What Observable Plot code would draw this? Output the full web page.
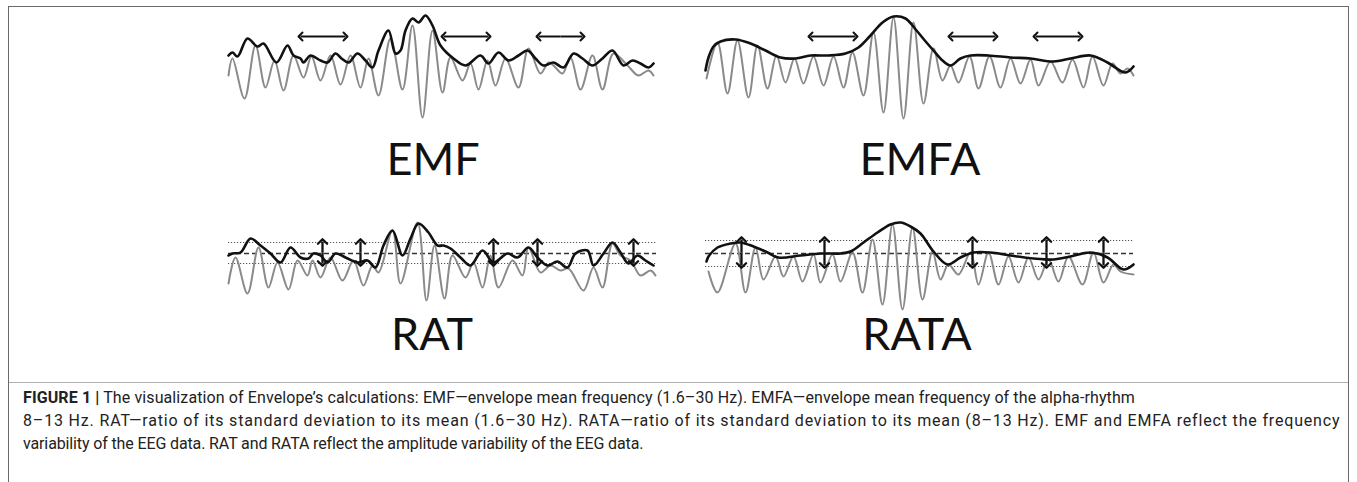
<!DOCTYPE html>
<html><head><meta charset="utf-8">
<script src="https://cdn.jsdelivr.net/npm/d3@7"></script>
<script src="https://cdn.jsdelivr.net/npm/@observablehq/plot@0.6"></script>
<style>
html,body{margin:0;padding:0;background:#fff;overflow:hidden}
#fig{position:relative;width:1357px;height:482px;overflow:hidden}
.box{position:absolute;left:8px;top:6px;width:1339px;height:560px;border:1.5px solid #6a6a6a}
.hr{position:absolute;left:9px;top:382px;width:1339px;border-top:1px solid #b0b0b0}
.panel{position:absolute}
.lab{position:absolute;font-family:Lato,"Open Sans",sans-serif;font-size:45px;color:#111;transform:translateX(-50%);white-space:nowrap;line-height:1}
.cl{position:absolute;left:23px;font-family:Roboto,"Liberation Sans",sans-serif;font-size:16px;line-height:1;color:#222;white-space:nowrap}
</style></head><body>
<div id="fig">
<div class="box"></div>
<div class="hr"></div>
<div id="emf" class="panel" style="left:218px;top:0px"></div>
<div id="emfa" class="panel" style="left:695px;top:0px"></div>
<div id="rat" class="panel" style="left:218px;top:180px"></div>
<div id="rata" class="panel" style="left:695px;top:180px"></div>
<div class="lab" style="left:433px;top:136px">EMF</div>
<div class="lab" style="left:920px;top:136px">EMFA</div>
<div class="lab" style="left:432px;top:311px">RAT</div>
<div class="lab" style="left:917px;top:311px">RATA</div>
<div class="cl" id="c1" style="top:390px" data-w="1112"><b>FIGURE 1 |</b> The visualization of Envelope’s calculations: EMF—envelope mean frequency (1.6–30 Hz). EMFA—envelope mean frequency of the alpha-rhythm</div>
<div class="cl" id="c2" style="top:413px" data-w="1317">8–13 Hz. RAT—ratio of its standard deviation to its mean (1.6–30 Hz). RATA—ratio of its standard deviation to its mean (8–13 Hz). EMF and EMFA reflect the frequency</div>
<div class="cl" id="c3" style="top:436px" data-w="620">variability of the EEG data. RAT and RATA reflect the amplitude variability of the EEG data.</div>
</div>
<script>
// ---- data: [time sample, amplitude] ----
const emfSignal = [[0,-10],[4,7],[16,-33],[27,20],[37,-22],[46,5],[55,-25],[65,10],[75,-12],[83,9],[92,-15],[102,10],[112,-19],[122,10],[132,-22],[140,7],[150,-30],[162,27],[174,-24],[184,40],[194,-52],[204,35],[214,-27],[222,8],[234,-15],[242,2],[250,-24],[259,5],[267,-20],[277,7],[290,-22],[300,17],[312,-8],[320,3],[325,0],[334,-8],[342,8],[352,-24],[364,10],[374,-24],[385,12],[399,0],[410,-10],[420,-5],[425,-10]];
const emfEnvelope = [[0,10],[4,13],[9,9],[19,27],[29,19],[35,22],[48,3],[59,20],[65,10],[72,7],[75,3],[82,10],[92,5],[99,3],[107,12],[113,7],[120,3],[129,12],[137,5],[144,-2],[150,15],[160,35],[167,12],[172,15],[177,35],[184,47],[190,43],[197,50],[204,40],[212,20],[225,7],[237,0],[252,10],[260,2],[270,13],[280,5],[290,10],[299,15],[307,7],[315,0],[325,3],[335,-2],[345,12],[354,7],[364,0],[374,7],[384,15],[395,0],[404,5],[412,2],[420,-2],[425,2]];
const emfaSignal = [[1,-13],[12,23],[22,-28],[32,25],[43,-32],[52,20],[62,-23],[71,10],[80,-17],[89,7],[98,-18],[108,9],[118,-20],[128,9],[138,-22],[147,13],[158,-30],[168,33],[178,-47],[188,48],[198,-53],[208,43],[218,-38],[228,17],[237,-15],[245,0],[253,-17],[264,9],[273,-23],[284,9],[295,-22],[305,7],[315,-18],[325,6],[333,-20],[345,4],[357,-17],[367,6],[378,-22],[387,9],[398,-20],[407,2],[415,-8],[422,-3],[428,-10]];
const emfaEnvelope = [[0,-5],[3,8],[8,19],[15,24],[30,26],[45,22],[60,15],[75,8],[90,7],[105,10],[123,10],[140,12],[153,18],[165,30],[177,43],[188,49],[200,47],[211,35],[221,23],[228,15],[237,5],[245,0],[255,7],[265,10],[283,10],[305,8],[325,7],[348,4],[365,7],[385,10],[402,3],[420,-7],[428,-1]];
const ratSignal = [[0,-30],[7,-4],[19,-40],[30,6],[40,-34],[49,-9],[60,-36],[69,-7],[79,-22],[84,-7],[92,-24],[102,-4],[114,-27],[125,-7],[135,-32],[144,-12],[150,-19],[164,23],[172,-30],[189,31],[198,-47],[206,8],[216,-45],[224,-2],[237,-24],[245,-9],[254,-34],[262,-2],[270,-34],[284,-7],[294,-22],[300,6],[312,-19],[322,-12],[332,-17],[340,-15],[355,-37],[365,-14],[374,-34],[384,10],[392,-2],[402,-7],[412,-22],[422,-17],[427,-22]];
const ratEnvelope = [[0,-2],[4,0],[12,1],[22,15],[32,8],[42,0],[52,-9],[62,6],[72,-4],[80,-5],[85,0],[92,-2],[99,-9],[107,0],[117,-4],[129,-9],[139,-7],[147,-14],[155,8],[164,23],[174,-2],[182,15],[190,30],[200,21],[209,8],[215,8],[222,5],[232,-4],[242,-12],[254,3],[265,-9],[279,0],[289,-4],[300,6],[309,-4],[319,-12],[329,-8],[339,-14],[347,0],[359,3],[365,-12],[375,0],[384,11],[392,1],[400,-10],[409,-2],[417,-7],[425,-12]];
const rataSignal = [[3,-18],[12,-39],[30,10],[40,-39],[50,6],[58,-26],[70,-3],[78,-23],[88,-3],[97,-28],[108,-1],[115,-29],[127,-1],[135,-28],[147,1],[157,-39],[167,14],[177,-51],[187,29],[197,-56],[207,26],[217,-46],[227,2],[235,-26],[243,-11],[253,-21],[265,1],[273,-31],[283,1],[293,-31],[303,-3],[313,-29],[323,-4],[333,-26],[343,-6],[353,-28],[363,-3],[377,-31],[388,1],[398,-29],[408,-11],[415,-18],[428,-21]];
const rataEnvelope = [[1,-8],[3,-3],[12,6],[25,10],[35,11],[48,7],[62,1],[73,-4],[95,-2],[115,0],[135,0],[145,2],[158,11],[172,21],[185,29],[195,31],[205,27],[215,20],[228,2],[242,-11],[255,-4],[268,1],[285,1],[305,-2],[328,-5],[348,-6],[365,-3],[385,1],[402,-4],[418,-16],[428,-11]];
// horizontal period arrows [start, end, level]
const emfArrows = [[72,117,29],[215,260,29],[310,354,29]];
const emfaArrows = [[105,150,29],[245,290,29],[330,375,29]];
// vertical deviation arrows [time, top, bottom]
const ratArrows = [[94,12,-10],[132,12,-10],[265,12,-10],[309,12,-10],[405,12,-10]];
const rataArrows = [[36,14,-12],[119,14,-12],[267,14,-12],[341,14,-12],[398,14,-12]];
// reference levels: upper dotted, mean (dashed), lower dotted
const ratLevels = [11, 0, -10];
const rataLevels = [13, 0, -13];

function panel(sig, env, opt) {
  const marks = [];
  if (opt.levels) {
    marks.push(Plot.ruleY([opt.levels[0], opt.levels[2]], {x1: 0, x2: 428, stroke: "#555", strokeWidth: 1, strokeDasharray: "1.2,1.8"}));
    marks.push(Plot.ruleY([opt.levels[1]], {x1: 0, x2: 428, stroke: "#333", strokeWidth: 1.3, strokeDasharray: "5,3"}));
  }
  marks.push(Plot.line(sig, {x: d => d[0], y: d => d[1], stroke: "#8a8a8a", strokeWidth: 2, curve: "catmull-rom"}));
  marks.push(Plot.line(env, {x: d => d[0], y: d => d[1], stroke: "#111", strokeWidth: 2.6, curve: "catmull-rom"}));
  const arrowStyle = {stroke: "#111", strokeWidth: 2, markerEnd: "arrow"};
  if (opt.hArrows) {
    for (const k of [0, 1]) marks.push(Plot.link(opt.hArrows, {x1: d => (d[0] + d[1]) / 2, x2: d => d[k], y1: d => d[2], y2: d => d[2], ...arrowStyle}));
  }
  if (opt.vArrows) {
    for (const k of [1, 2]) marks.push(Plot.link(opt.vArrows, {x1: d => d[0], x2: d => d[0], y1: d => (d[1] + d[2]) / 2, y2: d => d[k], ...arrowStyle, strokeWidth: 2.3}));
  }
  return Plot.plot({
    width: 450, height: opt.height, marginTop: 0, marginBottom: 0, marginLeft: 10, marginRight: 10,
    x: {domain: [0, 430], axis: null},
    y: {domain: opt.ydomain, axis: null},
    style: {background: "transparent", overflow: "visible"},
    marks
  });
}
document.getElementById("emf").append(panel(emfSignal, emfEnvelope, {height: 135, ydomain: [-70, 65], hArrows: emfArrows}));
document.getElementById("emfa").append(panel(emfaSignal, emfaEnvelope, {height: 135, ydomain: [-70, 65], hArrows: emfaArrows}));
document.getElementById("rat").append(panel(ratSignal, ratEnvelope, {height: 140, ydomain: [-67, 73], vArrows: ratArrows, levels: ratLevels}));
document.getElementById("rata").append(panel(rataSignal, rataEnvelope, {height: 140, ydomain: [-67, 73], vArrows: rataArrows, levels: rataLevels}));

// spread the caption lines evenly to the widths measured in the figure
["c1", "c2", "c3"].forEach(id => {
  const el = document.getElementById(id);
  const w = el.getBoundingClientRect().width;
  const n = el.textContent.length;
  el.style.letterSpacing = ((+el.dataset.w - w) / n) + "px";
});
</script>
</body></html>
